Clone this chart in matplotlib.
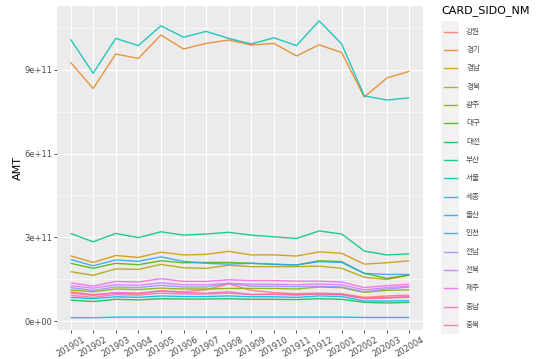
import numpy as np
import matplotlib
matplotlib.use("Agg")
import matplotlib.pyplot as plt
from matplotlib.lines import Line2D
from matplotlib.patches import Rectangle

months = ["201901", "201902", "201903", "201904", "201905", "201906", "201907", "201908",
          "201909", "201910", "201911", "201912", "202001", "202002", "202003", "202004"]

regions = ["강원", "경기", "경남", "경북", "광주", "대구", "대전", "부산", "서울",
           "세종", "울산", "인천", "전남", "전북", "제주", "충남", "충북"]

# values in units of 1e11
gangwon = [1.05, 0.95, 1.00, 0.98, 1.08, 1.05, 1.12, 1.33, 1.10, 1.02, 0.98, 1.00, 0.98, 0.85, 0.90, 0.93]
gyeonggi = [9.27, 8.33, 9.57, 9.41, 10.25, 9.75, 9.95, 10.07, 9.89, 9.95, 9.50, 9.90, 9.62, 8.03, 8.71, 8.95]
gyeongnam = [2.34, 2.10, 2.35, 2.28, 2.47, 2.37, 2.39, 2.50, 2.37, 2.37, 2.33, 2.48, 2.43, 2.04, 2.09, 2.16]
gyeongbuk = [1.77, 1.64, 1.87, 1.85, 2.03, 1.91, 1.89, 2.00, 1.95, 1.95, 1.95, 1.97, 1.89, 1.57, 1.49, 1.65]
gwangju = [1.12, 1.05, 1.15, 1.13, 1.18, 1.15, 1.15, 1.17, 1.17, 1.17, 1.15, 1.22, 1.20, 1.03, 1.10, 1.12]
daegu = [2.07, 1.89, 2.07, 2.02, 2.16, 2.09, 2.10, 2.10, 2.07, 2.03, 2.01, 2.16, 2.13, 1.71, 1.53, 1.65]
daejeon = [0.75, 0.70, 0.78, 0.76, 0.80, 0.79, 0.79, 0.80, 0.78, 0.78, 0.77, 0.80, 0.78, 0.67, 0.65, 0.67]
busan = [3.14, 2.84, 3.14, 2.99, 3.20, 3.08, 3.12, 3.18, 3.08, 3.02, 2.96, 3.23, 3.12, 2.51, 2.37, 2.41]
seoul = [10.10, 8.88, 10.13, 9.87, 10.58, 10.17, 10.38, 10.13, 9.93, 10.15, 9.87, 10.76, 9.93, 8.07, 7.92, 8.00]
sejong = [0.12, 0.12, 0.14, 0.14, 0.14, 0.14, 0.14, 0.14, 0.14, 0.14, 0.14, 0.14, 0.14, 0.13, 0.13, 0.13]
ulsan = [0.85, 0.80, 0.87, 0.85, 0.90, 0.88, 0.88, 0.90, 0.87, 0.87, 0.85, 0.90, 0.88, 0.72, 0.72, 0.73]
incheon = [2.21, 1.98, 2.19, 2.14, 2.30, 2.14, 2.07, 2.04, 2.07, 2.04, 2.01, 2.13, 2.10, 1.71, 1.67, 1.67]
jeonnam = [1.20, 1.10, 1.22, 1.20, 1.28, 1.22, 1.22, 1.35, 1.25, 1.25, 1.23, 1.25, 1.22, 1.05, 1.15, 1.22]
jeonbuk = [1.27, 1.18, 1.30, 1.28, 1.37, 1.30, 1.30, 1.35, 1.32, 1.32, 1.30, 1.33, 1.30, 1.12, 1.20, 1.25]
jeju = [1.37, 1.25, 1.42, 1.40, 1.52, 1.42, 1.42, 1.48, 1.45, 1.45, 1.43, 1.43, 1.40, 1.20, 1.27, 1.32]
chungnam = [1.00, 0.92, 1.02, 1.00, 1.08, 1.02, 1.00, 1.05, 0.95, 0.97, 0.95, 0.97, 0.95, 0.82, 0.85, 0.88]
chungbuk = [0.92, 0.85, 0.95, 0.93, 1.00, 0.97, 0.97, 1.00, 0.95, 0.95, 0.93, 0.97, 0.95, 0.80, 0.82, 0.85]

series = [gangwon, gyeonggi, gyeongnam, gyeongbuk, gwangju, daegu, daejeon, busan, seoul,
          sejong, ulsan, incheon, jeonnam, jeonbuk, jeju, chungnam, chungbuk]

yticks = [0, 3e11, 6e11, 9e11]
ytick_labels = ["0e+00", "3e+11", "6e+11", "9e+11"]


def hcl_to_rgb(h, c=100.0, l=65.0):
    Xn, Yn, Zn = 95.047, 100.0, 108.883
    hr = np.deg2rad(h)
    u = c * np.cos(hr)
    v = c * np.sin(hr)
    Y = Yn * ((l + 16) / 116) ** 3
    un = 4 * Xn / (Xn + 15 * Yn + 3 * Zn)
    vn = 9 * Yn / (Xn + 15 * Yn + 3 * Zn)
    up = u / (13 * l) + un
    vp = v / (13 * l) + vn
    X = Y * 9 * up / (4 * vp)
    Z = Y * (12 - 3 * up - 20 * vp) / (4 * vp)
    M = np.array([[3.2404542, -1.5371385, -0.4985314],
                  [-0.9692660, 1.8760108, 0.0415560],
                  [0.0556434, -0.2040259, 1.0572252]])
    rgb = M @ (np.array([X, Y, Z]) / 100.0)
    out = []
    for ch in rgb:
        ch = 12.92 * ch if ch <= 0.0031308 else 1.055 * ch ** (1 / 2.4) - 0.055
        out.append(min(max(ch, 0), 1))
    return tuple(out)


n = len(regions)
hues = np.linspace(15, 375, n + 1)[:n]
colors = [hcl_to_rgb(h) for h in hues]

W, H = 541, 359
fig = plt.figure(figsize=(W / 100, H / 100), dpi=100)
ax = fig.add_axes([57 / W, 1 - 330 / H, (423 - 57) / W, (330 - 6) / H])
ax.set_facecolor("#EBEBEB")

x = np.arange(len(months))
for vals, col in zip(series, colors):
    ax.plot(x, np.array(vals) * 1e11, color=col, lw=1.0, alpha=0.85,
            solid_capstyle="butt", zorder=3)

ax.set_xlim(-0.6, len(months) - 1 + 0.6)
ax.set_ylim(-0.32e11, 11.29e11)
ax.set_xticks(x)
ax.set_xticklabels(months, rotation=30, ha="center", va="top", fontsize=6, color="#4D4D4D")
ax.set_yticks(yticks)
ax.set_yticklabels(ytick_labels, fontsize=6, color="#4D4D4D")
ax.set_yticks([1.5e11, 4.5e11, 7.5e11, 10.5e11], minor=True)
ax.tick_params(axis="both", which="major", length=2.0, width=0.6, color="#333333", pad=1.5)
ax.tick_params(axis="y", which="minor", length=0)
ax.grid(True, which="major", color="white", lw=0.8, zorder=0)
ax.grid(True, which="minor", axis="y", color="white", lw=0.4, zorder=0)
ax.set_axisbelow(True)
for s in ax.spines.values():
    s.set_visible(False)
ax.set_ylabel("AMT", fontsize=8, labelpad=1)

# legend
fig.text(441 / W, 1 - 11 / H, "CARD_SIDO_NM", fontsize=8, ha="left", va="center", color="black")
fig.patches.append(Rectangle((441 / W, 1 - 333.5 / H), 18 / W, (333.5 - 21) / H,
                             transform=fig.transFigure, facecolor="#F2F2F2", edgecolor="none"))
for k, (name, col) in enumerate(zip(regions, colors)):
    yk = 1 - (31.7 + 18.33 * k) / H
    fig.lines.append(Line2D([443.5 / W, 457 / W], [yk, yk], transform=fig.transFigure,
                            color=col, lw=1.0, alpha=0.85))
    fig.text(466 / W, yk, name, fontsize=5.5, ha="left", va="center", color="#4D4D4D",
             family=["Noto Sans CJK KR", "DejaVu Sans"])

fig.savefig("out.png", dpi=100)
